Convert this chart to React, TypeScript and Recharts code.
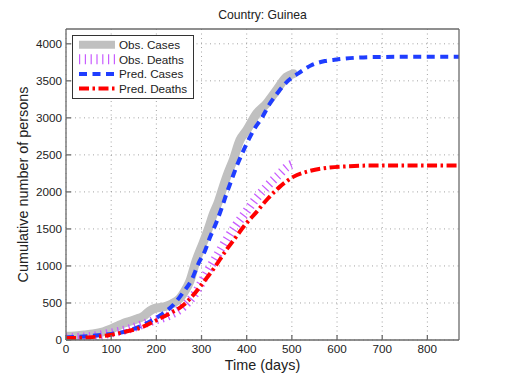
import React from 'react';
import { LineChart, Line, XAxis, YAxis, CartesianGrid, Legend } from 'recharts';

const chartTitle = 'Country: Guinea';
const xLabel = 'Time (days)';
const yLabel = 'Cumulative number of persons';

const xTicks = [0, 100, 200, 300, 400, 500, 600, 700, 800];
const yTicks = [0, 500, 1000, 1500, 2000, 2500, 3000, 3500, 4000];

const obsCasesDays = [0, 20, 40, 60, 83, 100, 115, 127, 140, 155, 171, 185, 197, 210, 223, 235, 252, 262, 274, 288, 304, 315, 326, 337, 348, 359, 370, 385, 400, 422, 444, 466, 488, 503];
const obsCasesValues = [49, 55, 68, 82, 112, 150, 190, 225, 250, 280, 320, 390, 427, 440, 460, 490, 562, 650, 790, 1070, 1320, 1500, 1700, 1860, 2068, 2260, 2428, 2698, 2832, 3058, 3192, 3372, 3551, 3597];

const obsDeathsDays = [0, 50, 97, 140, 186, 230, 260, 285, 311, 333, 355, 374, 396, 418, 444, 470, 495, 505];
const obsDeathsValues = [30, 45, 90, 150, 247, 337, 450, 620, 899, 1124, 1349, 1529, 1709, 1888, 2068, 2226, 2360, 2380];

const predCasesDays = [0, 50, 100, 130, 160, 190, 215, 237, 260, 278, 293, 308, 319, 333, 344, 355, 367, 378, 390, 403, 418, 433, 451, 470, 488, 514, 543, 573, 602, 650, 700, 800, 870];
const predCasesValues = [35, 52, 82, 112, 175, 262, 360, 470, 650, 810, 1030, 1210, 1390, 1590, 1770, 1970, 2170, 2350, 2520, 2690, 2860, 2995, 3190, 3350, 3480, 3600, 3710, 3767, 3790, 3815, 3823, 3826, 3826];

const predDeathsDays = [0, 50, 97, 130, 171, 201, 230, 260, 285, 308, 330, 352, 374, 396, 422, 447, 473, 503, 540, 584, 628, 672, 750, 870];
const predDeathsValues = [25, 35, 67, 110, 180, 270, 360, 472, 630, 809, 989, 1191, 1372, 1551, 1731, 1911, 2068, 2203, 2284, 2329, 2347, 2356, 2358, 2358];

const toRows = (days: number[], vals: number[]) => days.map((d, i) => ({ d, v: vals[i] }));
const obsCases = toRows(obsCasesDays, obsCasesValues);
const obsDeaths = toRows(obsDeathsDays, obsDeathsValues);
const predCases = toRows(predCasesDays, predCasesValues);
const predDeaths = toRows(predDeathsDays, predDeathsValues);

const FONT = '"Liberation Sans", Arial, Helvetica, sans-serif';
const AXIS = '#6a6a6a';
const TXT = '#222';

const series = [
  { name: 'Obs. Cases', color: '#c0c0c0', width: 9, dash: undefined as string | undefined },
  { name: 'Obs. Deaths', color: '#c85cff', width: 9, dash: '1.3 4.5' },
  { name: 'Pred. Cases', color: '#1f3dff', width: 4, dash: '8 5.5' },
  { name: 'Pred. Deaths', color: '#ff0000', width: 4, dash: '10 3.5 2.5 3.5' },
];

const renderLegend = () => (
  <svg width={122} height={64} style={{ display: 'block' }}>
    <rect x={0.5} y={0.5} width={121} height={63} fill="#fff" stroke="#333" strokeWidth={1} />
    {series.map((s, i) => {
      const cy = 9.7 + i * 14.6;
      return (
        <g key={s.name}>
          <line x1={7} x2={43} y1={cy} y2={cy} stroke={s.color} strokeWidth={s.name === 'Obs. Deaths' ? 10 : s.width === 9 ? 8 : 4} strokeDasharray={s.name === 'Obs. Deaths' ? '1.2 4.6' : s.dash} />
          <text x={47} y={cy} dy="0.36em" fontSize={11.7} fontFamily={FONT} fill={TXT}>{s.name}</text>
        </g>
      );
    })}
  </svg>
);

export default function App() {
  return (
    <div style={{ position: 'absolute', left: 0, top: 0, width: 507, height: 382, background: '#fff' }}>
      <LineChart width={507} height={382} margin={{ top: 0, right: 0, bottom: 0, left: 0 }} style={{ fontFamily: FONT }}>
        <CartesianGrid stroke="#8c8c8c" strokeDasharray="1 3.5" strokeWidth={0.8} horizontalValues={yTicks} verticalValues={xTicks} />
        <XAxis
          dataKey="d"
          type="number"
          domain={[0, 870]}
          ticks={xTicks}
          allowDataOverflow
          height={42}
          stroke={AXIS}
          strokeWidth={1.3}
          tickSize={-5}
          tickMargin={10}
          tick={{ fill: TXT, fontSize: 11.7, fontFamily: FONT }}
          label={{ value: xLabel, position: 'center', dy: 4, fill: TXT, fontSize: 14.4, fontFamily: FONT }}
        />
        <XAxis
          xAxisId="top"
          orientation="top"
          dataKey="d"
          type="number"
          domain={[0, 870]}
          ticks={xTicks}
          allowDataOverflow
          height={29}
          stroke={AXIS}
          strokeWidth={1.3}
          tickSize={-5}
          tick={false}
          label={{ value: chartTitle, position: 'center', dy: 0, fill: TXT, fontSize: 12.2, fontFamily: FONT }}
        />
        <YAxis
          type="number"
          domain={[0, 4200]}
          ticks={yTicks}
          allowDataOverflow
          width={66}
          stroke={AXIS}
          strokeWidth={1.3}
          tickSize={-5}
          tickMargin={9}
          tick={{ fill: TXT, fontSize: 11.7, fontFamily: FONT }}
          label={{ value: yLabel, angle: -90, position: 'center', dx: -10, fill: TXT, fontSize: 14.4, fontFamily: FONT }}
        />
        <YAxis
          yAxisId="right"
          orientation="right"
          type="number"
          domain={[0, 4200]}
          ticks={yTicks}
          allowDataOverflow
          width={48}
          stroke={AXIS}
          strokeWidth={1.3}
          tickSize={-5}
          tick={false}
        />
        <Line data={obsCases} dataKey="v" type="monotone" stroke={series[0].color} strokeWidth={series[0].width} strokeLinejoin="round" strokeLinecap="round" dot={false} isAnimationActive={false} legendType="none" />
        <Line data={obsDeaths} dataKey="v" type="monotone" stroke={series[1].color} strokeWidth={series[1].width} strokeDasharray={series[1].dash} strokeLinecap="butt" dot={false} isAnimationActive={false} legendType="none" />
        <Line data={predCases} dataKey="v" type="monotone" stroke={series[2].color} strokeWidth={series[2].width} strokeDasharray={series[2].dash} dot={false} isAnimationActive={false} legendType="none" />
        <Line data={predDeaths} dataKey="v" type="monotone" stroke={series[3].color} strokeWidth={series[3].width} strokeDasharray={series[3].dash} dot={false} isAnimationActive={false} legendType="none" />
        <Legend
          layout="vertical"
          align="center"
          verticalAlign="middle"
          content={renderLegend}
          wrapperStyle={{ position: 'absolute', left: 72, top: 35, width: 122, height: 64, margin: 0, padding: 0 }}
        />
      </LineChart>
    </div>
  );
}
